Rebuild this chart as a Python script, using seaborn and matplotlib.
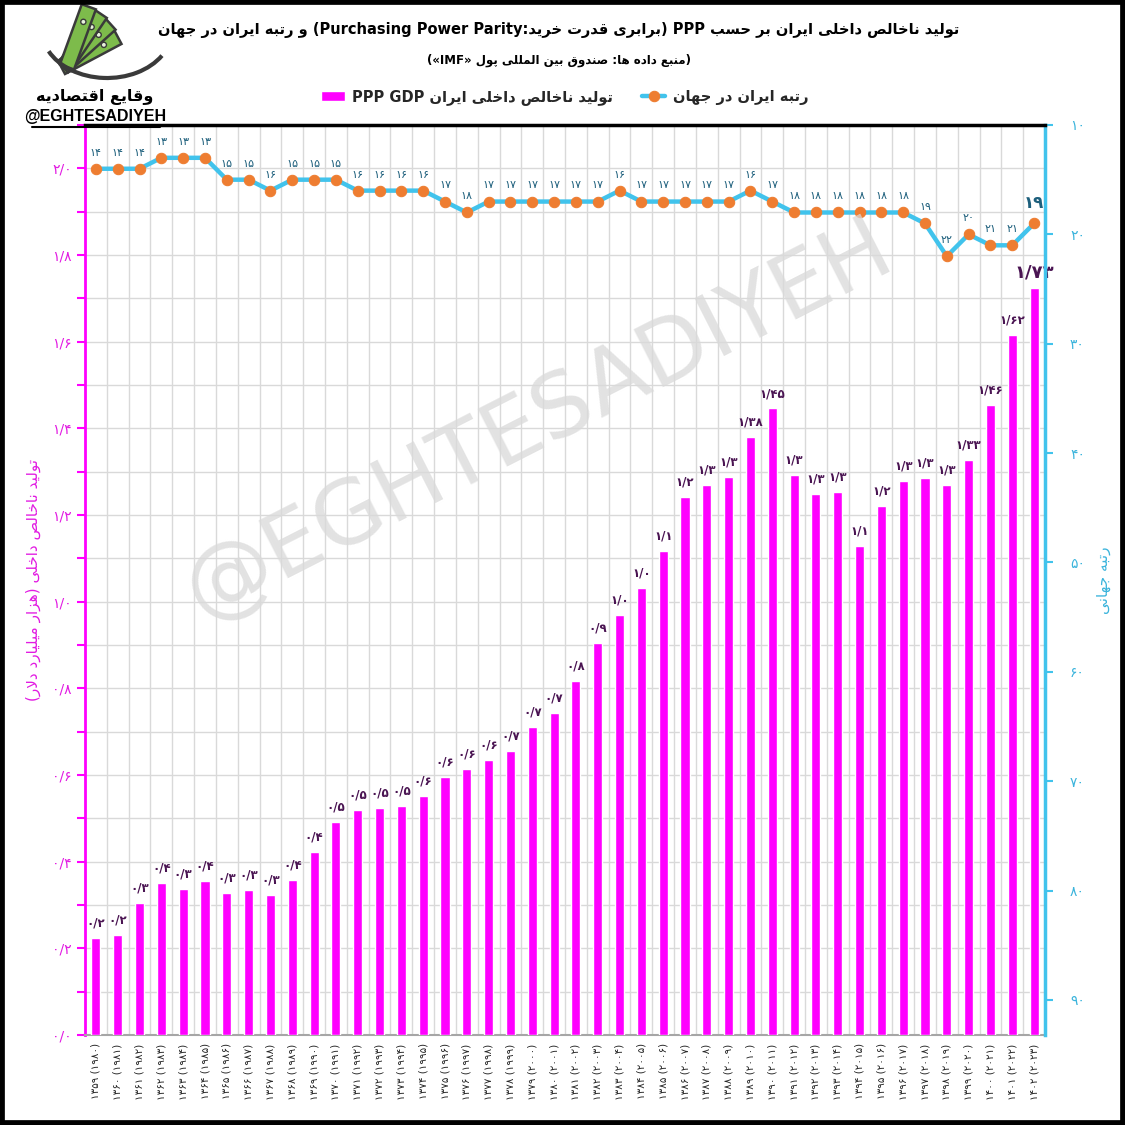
import re
from matplotlib import pyplot as plt
from matplotlib.patches import Rectangle, Polygon, Circle, Arc
from matplotlib.ticker import MultipleLocator, FuncFormatter
import numpy as np
import pandas as pd
import seaborn as sns

sns.set_style('white')
plt.rcParams['font.family'] = ['DejaVu Sans']

# ---- data ----
shamsi = ['۱۳۵۹', '۱۳۶۰', '۱۳۶۱', '۱۳۶۲', '۱۳۶۳', '۱۳۶۴', '۱۳۶۵', '۱۳۶۶', '۱۳۶۷', '۱۳۶۸', '۱۳۶۹',
          '۱۳۷۰', '۱۳۷۱', '۱۳۷۲', '۱۳۷۳', '۱۳۷۴', '۱۳۷۵', '۱۳۷۶', '۱۳۷۷', '۱۳۷۸', '۱۳۷۹', '۱۳۸۰',
          '۱۳۸۱', '۱۳۸۲', '۱۳۸۳', '۱۳۸۴', '۱۳۸۵', '۱۳۸۶', '۱۳۸۷', '۱۳۸۸', '۱۳۸۹', '۱۳۹۰', '۱۳۹۱',
          '۱۳۹۲', '۱۳۹۳', '۱۳۹۴', '۱۳۹۵', '۱۳۹۶', '۱۳۹۷', '۱۳۹۸', '۱۳۹۹', '۱۴۰۰', '۱۴۰۱', '۱۴۰۲']
miladi = ['۱۹۸۰', '۱۹۸۱', '۱۹۸۲', '۱۹۸۳', '۱۹۸۴', '۱۹۸۵', '۱۹۸۶', '۱۹۸۷', '۱۹۸۸', '۱۹۸۹', '۱۹۹۰',
          '۱۹۹۱', '۱۹۹۲', '۱۹۹۳', '۱۹۹۴', '۱۹۹۵', '۱۹۹۶', '۱۹۹۷', '۱۹۹۸', '۱۹۹۹', '۲۰۰۰', '۲۰۰۱',
          '۲۰۰۲', '۲۰۰۳', '۲۰۰۴', '۲۰۰۵', '۲۰۰۶', '۲۰۰۷', '۲۰۰۸', '۲۰۰۹', '۲۰۱۰', '۲۰۱۱', '۲۰۱۲',
          '۲۰۱۳', '۲۰۱۴', '۲۰۱۵', '۲۰۱۶', '۲۰۱۷', '۲۰۱۸', '۲۰۱۹', '۲۰۲۰', '۲۰۲۱', '۲۰۲۲', '۲۰۲۳']

gdp = [0.224, 0.231, 0.304, 0.351, 0.337, 0.355, 0.327, 0.334, 0.324, 0.358, 0.422,
       0.492, 0.520, 0.524, 0.528, 0.552, 0.596, 0.614, 0.634, 0.656, 0.711, 0.744,
       0.817, 0.904, 0.969, 1.032, 1.117, 1.241, 1.269, 1.288, 1.380, 1.446, 1.292,
       1.248, 1.253, 1.129, 1.220, 1.279, 1.285, 1.269, 1.327, 1.455, 1.615, 1.723]

gdp_text = ['۰/۲', '۰/۲', '۰/۳', '۰/۴', '۰/۳', '۰/۴', '۰/۳', '۰/۳', '۰/۳', '۰/۴', '۰/۴',
            '۰/۵', '۰/۵', '۰/۵', '۰/۵', '۰/۶', '۰/۶', '۰/۶', '۰/۶', '۰/۷', '۰/۷', '۰/۷',
            '۰/۸', '۰/۹', '۱/۰', '۱/۰', '۱/۱', '۱/۲', '۱/۳', '۱/۳', '۱/۳۸', '۱/۴۵', '۱/۳',
            '۱/۳', '۱/۳', '۱/۱', '۱/۲', '۱/۳', '۱/۳', '۱/۳', '۱/۳۳', '۱/۴۶', '۱/۶۲', '۱/۷۳']

rank = [14, 14, 14, 13, 13, 13, 15, 15, 16, 15, 15,
        15, 16, 16, 16, 16, 17, 18, 17, 17, 17, 17,
        17, 17, 16, 17, 17, 17, 17, 17, 16, 17, 18,
        18, 18, 18, 18, 18, 19, 22, 20, 21, 21, 19]

title = 'تولید ناخالص داخلی ایران بر حسب PPP (برابری قدرت خرید:Purchasing Power Parity) و رتبه ایران در جهان'
subtitle = '(منبع داده ها: صندوق بین المللی پول «IMF»)'
gdp_name = 'تولید ناخالص داخلی ایران PPP GDP'
rank_name = 'رتبه ایران در جهان'
left_label = 'تولید ناخالص داخلی (هزار میلیارد دلار)'
right_label = 'رتبه جهانی'
brand_fa = 'وقایع اقتصادیه'
brand = '@EGHTESADIYEH'

# ---- minimal persian shaping (matplotlib has no text shaping) ----
FORMS = {
    'ا': ('\uFE8D', '\uFE8E', None, None),
    'ب': ('\uFE8F', '\uFE90', '\uFE91', '\uFE92'),
    'پ': ('\uFB56', '\uFB57', '\uFB58', '\uFB59'),
    'ت': ('\uFE95', '\uFE96', '\uFE97', '\uFE98'),
    'ج': ('\uFE9D', '\uFE9E', '\uFE9F', '\uFEA0'),
    'ح': ('\uFEA1', '\uFEA2', '\uFEA3', '\uFEA4'),
    'خ': ('\uFEA5', '\uFEA6', '\uFEA7', '\uFEA8'),
    'د': ('\uFEA9', '\uFEAA', None, None),
    'ر': ('\uFEAD', '\uFEAE', None, None),
    'ز': ('\uFEAF', '\uFEB0', None, None),
    'س': ('\uFEB1', '\uFEB2', '\uFEB3', '\uFEB4'),
    'ص': ('\uFEB9', '\uFEBA', '\uFEBB', '\uFEBC'),
    'ع': ('\uFEC9', '\uFECA', '\uFECB', '\uFECC'),
    'ق': ('\uFED5', '\uFED6', '\uFED7', '\uFED8'),
    'ل': ('\uFEDD', '\uFEDE', '\uFEDF', '\uFEE0'),
    'م': ('\uFEE1', '\uFEE2', '\uFEE3', '\uFEE4'),
    'ن': ('\uFEE5', '\uFEE6', '\uFEE7', '\uFEE8'),
    'ه': ('\uFEE9', '\uFEEA', '\uFEEB', '\uFEEC'),
    'و': ('\uFEED', '\uFEEE', None, None),
    'ی': ('\uFEEF', '\uFEF0', '\uFEF3', '\uFEF4'),
}
MIRROR = str.maketrans({'(': ')', ')': '(', '«': '»', '»': '«'})


def fa(s):
    out = []
    i = 0
    while i < len(s):
        c = s[i]
        if c in FORMS:
            prev = s[i - 1] if i > 0 else ''
            pj = prev in FORMS and FORMS[prev][2] is not None
            if c == 'ل' and i + 1 < len(s) and s[i + 1] == 'ا':
                out.append('\uFEFC' if pj else '\uFEFB')
                i += 2
                continue
            nxt = s[i + 1] if i + 1 < len(s) else ''
            nj = FORMS[c][2] is not None and nxt in FORMS
            f = FORMS[c]
            out.append(f[3] if pj and nj else f[1] if pj else f[2] if nj else f[0])
        else:
            out.append(c)
        i += 1
    r = ''.join(out)[::-1]
    r = re.sub(r'[A-Za-z0-9]+(?: [A-Za-z0-9]+)*', lambda m: m.group(0)[::-1], r)
    return r.translate(MIRROR)


def fa_num(v, fmt):
    return (fmt % v).translate(str.maketrans('0123456789.', '۰۱۲۳۴۵۶۷۸۹/'))


MAGENTA = '#FF00FF'
BLUE = '#41C3EC'
ORANGE = '#EE7D31'

df = pd.DataFrame({'year': [f'{s} ({m})' for s, m in zip(shamsi, miladi)],
                   'gdp': gdp, 'rank': rank})
df['pos'] = np.arange(len(df))

fig = plt.figure(figsize=(11.25, 11.25), dpi=100)
ax = fig.add_axes([85 / 1125, 1 - 1035 / 1125, 960 / 1125, 910 / 1125])

sns.barplot(data=df, x='year', y='gdp', color=MAGENTA, saturation=1, width=0.42, ax=ax, zorder=3)
ax.set_xlim(-0.5, len(df) - 0.5)
ax.set_ylim(0, 2.1)
ax.yaxis.set_major_locator(MultipleLocator(0.2))
ax.yaxis.set_minor_locator(MultipleLocator(0.1))
ax.yaxis.set_major_formatter(FuncFormatter(lambda v, p: fa_num(v, '%.1f')))
ax.set_xticks(np.arange(len(df)) + 0.5, minor=True)
ax.grid(axis='y', which='both', color='#D9D9D9', lw=1, zorder=0)
ax.grid(axis='x', which='minor', color='#D9D9D9', lw=1, zorder=0)
ax.set_axisbelow(True)
ax.set_xticks(df['pos'])
ax.set_xticklabels(df['year'], rotation=90, fontsize=7.5)
ax.tick_params(axis='x', which='major', length=0, pad=6)
ax.tick_params(axis='x', which='minor', length=4, color='#A6A6A6')
ax.tick_params(axis='y', which='both', direction='out', color=MAGENTA, width=1.5,
               labelcolor='#E21BE2', labelsize=10)
ax.tick_params(axis='y', which='major', length=6)
ax.tick_params(axis='y', which='minor', length=6)
ax.set_xlabel('')
ax.set_ylabel(fa(left_label), color='#E21BE2', fontsize=11, labelpad=8)
ax.spines['left'].set_color(MAGENTA)
ax.spines['left'].set_linewidth(2)
ax.spines['bottom'].set_color('#A6A6A6')
ax.spines['bottom'].set_linewidth(1.5)

for i, (v, t) in enumerate(zip(df['gdp'], gdp_text)):
    last = i == len(df) - 1
    ax.annotate(t, (i, v), xytext=(0, 5 if last else 6), textcoords='offset points',
                ha='center', va='bottom', fontsize=13 if last else 8.5, fontweight='bold',
                color='#4A1452', zorder=5)

ax2 = ax.twinx()
sns.lineplot(data=df, x='pos', y='rank', ax=ax2, color=BLUE, lw=3.2, marker='o',
             markersize=7.5, markerfacecolor=ORANGE, markeredgecolor=ORANGE, zorder=6)
ax2.set_ylim(93.2, 10)
ax2.set_yticks(np.arange(10, 91, 10))
ax2.yaxis.set_major_formatter(FuncFormatter(lambda v, p: fa_num(v, '%d')))
ax2.tick_params(axis='y', direction='out', length=6, width=1.5, color=BLUE,
                labelcolor='#3BB4DC', labelsize=10, pad=12)
ax2.set_ylabel(fa(right_label), color='#3BB4DC', fontsize=11, rotation=90, labelpad=8)
ax2.set_xlabel('')
for side in ['left', 'bottom']:
    ax2.spines[side].set_visible(False)
ax2.spines['right'].set_color(BLUE)
ax2.spines['right'].set_linewidth(2.5)
ax2.spines['top'].set_color('black')
ax2.spines['top'].set_linewidth(2.5)
ax.spines['top'].set_visible(False)
ax.spines['right'].set_visible(False)

for i, r in enumerate(df['rank']):
    last = i == len(df) - 1
    ax2.annotate(fa_num(r, '%d'), (i, r), xytext=(0, 8), textcoords='offset points',
                 ha='center', va='bottom', fontsize=12 if last else 8,
                 fontweight='bold' if last else 'normal', color='#1D5F7C', zorder=7)

# legend
fig.legend(handles=[ax.containers[0], ax2.lines[0]], labels=[fa(gdp_name), fa(rank_name)],
           loc='center', bbox_to_anchor=(0.502, 1 - 97 / 1125), ncol=2, frameon=False,
           handlelength=1.6, columnspacing=2.0, handletextpad=0.5,
           prop={'weight': 'bold', 'size': 10.5})

# titles
fig.text(0.497, 1 - 30 / 1125, fa(title), ha='center', va='center', fontsize=10.5,
         fontweight='bold', color='black')
fig.text(0.497, 1 - 60 / 1125, fa(subtitle), ha='center', va='center', fontsize=8.5,
         fontweight='bold', color='black')

# watermark
fig.text(0.478, 1 - 420 / 1125, brand, ha='center', va='center', rotation=27,
         rotation_mode='anchor', fontsize=64, color='#D9D9D9', alpha=0.75, zorder=1)

# logo
lg = fig.add_axes([25 / 1125, 1 - 88 / 1125, 140 / 1125, 86 / 1125])
lg.set_xlim(0, 140)
lg.set_ylim(0, 86)
lg.axis('off')
for k, ang in enumerate([28, 42, 56, 70]):
    t = np.deg2rad(ang)
    d = np.array([np.cos(t), np.sin(t)])
    n = np.array([-np.sin(t), np.cos(t)])
    p0 = np.array([40 + k * 3, 14 + k * 1.5])
    pts = [p0, p0 + 64 * d, p0 + 64 * d + 15 * n, p0 + 15 * n]
    lg.add_patch(Polygon(pts, closed=True, facecolor='#7DBB4B', edgecolor='#3A3A3A', lw=1.8,
                         zorder=2 + k, clip_on=False))
    c = p0 + 48 * d + 7.5 * n
    lg.add_patch(Circle(c, 2.6, facecolor='#E8F3DC', edgecolor='#3A3A3A', lw=1, zorder=2 + k,
                        clip_on=False))
lg.add_patch(Arc((82, 58), 130, 96, theta1=200, theta2=335, color='#3A3A3A', lw=3, zorder=10,
                 clip_on=False))
fig.text(95 / 1125, 1 - 97 / 1125, fa(brand_fa), ha='center', va='center', fontsize=11.5,
         fontweight='bold', color='black')
fig.text(95 / 1125, 1 - 117 / 1125, brand, ha='center', va='center', fontsize=11.5,
         fontweight='bold', color='black', family=['Liberation Sans', 'DejaVu Sans'])
fig.add_artist(plt.Line2D([32 / 1125, 160 / 1125], [1 - 127 / 1125, 1 - 127 / 1125],
                          color='black', lw=1.5))

# frame
fig.patches.append(Rectangle((0, 0), 1, 1, transform=fig.transFigure, fill=False,
                             edgecolor='black', linewidth=7, zorder=10))

fig.savefig('out.png', dpi=100)
